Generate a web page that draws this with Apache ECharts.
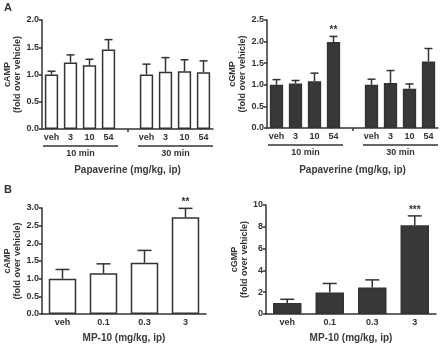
<!DOCTYPE html>
<html><head><meta charset="utf-8">
<script src="https://cdn.jsdelivr.net/npm/echarts@6/dist/echarts.min.js"></script>
<style>html,body{margin:0;padding:0;background:#fff}#c{width:440px;height:344px}</style>
</head><body><div id="c"></div>
<script>
// ---- data ----
const papCats = ['veh','3','10','54','','veh','3','10','54'];
const papGroups = ['10 min','30 min'];
const cAMP_A = [1.00,1.22,1.17,1.46,null,1.00,1.05,1.06,1.04];
const cAMP_A_err = [0.06,0.14,0.11,0.18,null,0.19,0.26,0.21,0.21];
const cAMP_A_sig = ['','','','','','','','',''];
const cGMP_A = [1.00,1.03,1.08,1.99,null,1.00,1.04,0.91,1.54];
const cGMP_A_err = [0.12,0.07,0.19,0.13,null,0.13,0.29,0.11,0.30];
const cGMP_A_sig = ['','','','**','','','','',''];
const mpCats = ['veh','0.1','0.3','3'];
const cAMP_B = [1.00,1.15,1.45,2.74];
const cAMP_B_err = [0.26,0.27,0.35,0.25];
const cAMP_B_sig = ['','','','**'];
const cGMP_B = [1.00,1.97,2.43,8.15];
const cGMP_B_err = [0.35,0.83,0.70,0.85];
const cGMP_B_sig = ['','','','***'];

const INK = '#333';
const FONT = 'Liberation Sans, Arial, sans-serif';
const chart = echarts.init(document.getElementById('c'), null, {renderer:'canvas'});

const panels = [
  {grid:{left:42,top:20,width:171,height:109}, cats:papCats, vals:cAMP_A, err:cAMP_A_err, sig:cAMP_A_sig,
   max:2, interval:0.5, dec:1, fill:'#fff', bw:'70%', cap:8, yname:'cAMP\n(fold over vehicle)', xname:'Papaverine (mg/kg, ip)', xgap:36, gapTick:true},
  {grid:{left:267,top:20,width:171,height:108}, cats:papCats, vals:cGMP_A, err:cGMP_A_err, sig:cGMP_A_sig,
   max:2.5, interval:0.5, dec:1, fill:'#383838', bw:'70%', cap:8, yname:'cGMP\n(fold over vehicle)', xname:'Papaverine (mg/kg, ip)', xgap:37, gapTick:true},
  {grid:{left:42,top:208,width:164,height:108.5}, cats:mpCats, vals:cAMP_B, err:cAMP_B_err, sig:cAMP_B_sig,
   max:3, interval:0.5, dec:1, fill:'#fff', bw:'67%', cap:14, yname:'cAMP\n(fold over vehicle)', xname:'MP-10 (mg/kg, ip)', xgap:19, gapTick:false},
  {grid:{left:266,top:205,width:170,height:111}, cats:mpCats, vals:cGMP_B, err:cGMP_B_err, sig:cGMP_B_sig,
   max:10, interval:2, dec:0, fill:'#383838', bw:'67%', cap:14, yname:'cGMP\n(fold over vehicle)', xname:'MP-10 (mg/kg, ip)', xgap:19, gapTick:false}
];

const grid=[], xAxis=[], yAxis=[], series=[];
panels.forEach((p,i)=>{
  grid.push(p.grid);
  xAxis.push({type:'category', gridIndex:i, data:p.cats,
    axisLine:{lineStyle:{color:INK,width:1.5}},
    axisTick:p.gapTick ? {show:true, alignWithLabel:true, length:3, lineStyle:{color:INK,width:1.5}, interval:(idx)=>p.cats[idx]===''} : {show:false},
    axisLabel:{color:INK, fontSize:9, fontWeight:'bold', fontFamily:FONT, margin:4, interval:0},
    name:p.xname, nameLocation:'middle', nameGap:p.xgap,
    nameTextStyle:{color:'#3a3a3a', fontSize:10, fontWeight:'bold', fontFamily:FONT}
  });
  yAxis.push({type:'value', gridIndex:i, min:0, max:p.max, interval:p.interval,
    splitLine:{show:false},
    axisLine:{show:true, lineStyle:{color:INK,width:1.5}},
    axisTick:{show:true, length:3, lineStyle:{color:INK,width:1.5}},
    axisLabel:{color:INK, fontSize:9, fontWeight:'bold', fontFamily:FONT, margin:3, formatter:(v)=>v.toFixed(p.dec)},
    name:p.yname, nameLocation:'middle', nameRotate:90, nameGap:16,
    nameTextStyle:{color:INK, fontSize:9, fontWeight:'bold', fontFamily:FONT, lineHeight:10}
  });
  series.push({type:'bar', xAxisIndex:i, yAxisIndex:i, data:p.vals, barWidth:p.bw,
    itemStyle:{color:p.fill, borderColor:INK, borderWidth:1.5}, silent:true, z:2});
  const edata = p.vals.map((v,k)=> v==null ? null : [k, v, v + p.err[k]]).filter(d=>d);
  series.push({type:'custom', xAxisIndex:i, yAxisIndex:i, data:edata, z:3, silent:true,
    renderItem:(params, api)=>{
      const k = api.value(0);
      const base = api.coord([k, api.value(1)]);
      const tip = api.coord([k, api.value(2)]);
      const hw = p.cap/2;
      const st = {stroke:INK, lineWidth:1.5};
      const ch = [
        {type:'line', shape:{x1:base[0],y1:base[1],x2:tip[0],y2:tip[1]}, style:st},
        {type:'line', shape:{x1:tip[0]-hw,y1:tip[1],x2:tip[0]+hw,y2:tip[1]}, style:st}
      ];
      const s = p.sig[k];
      if (s) ch.push({type:'text', style:{text:s, x:tip[0], y:tip[1]-1, align:'center', verticalAlign:'bottom',
        fill:INK, font:'bold 10px '+FONT}});
      return {type:'group', children:ch};
    }});
});

chart.setOption({animation:false, backgroundColor:'#fff', grid, xAxis, yAxis, series});

// group brackets under panel A axes, placed through the axis scales
const g = [
  {type:'text', left:4, top:2, style:{text:'A', font:'bold 11px '+FONT, fill:INK}},
  {type:'text', left:4, top:184, style:{text:'B', font:'bold 11px '+FONT, fill:INK}}
];
[0,1].forEach(i=>{
  const c0 = chart.convertToPixel({xAxisIndex:i}, 0);
  const c1 = chart.convertToPixel({xAxisIndex:i}, 1);
  const step = c1 - c0;
  const y0 = chart.convertToPixel({yAxisIndex:i}, 0);
  const ranges = [[0,3],[5,8]];
  ranges.forEach((r,j)=>{
    const xa = chart.convertToPixel({xAxisIndex:i}, r[0]) - step/2 + 1;
    const xb = chart.convertToPixel({xAxisIndex:i}, r[1]) + step/2;
    g.push({type:'line', shape:{x1:xa, y1:y0+17, x2:xb, y2:y0+17}, style:{stroke:INK, lineWidth:1.5}});
    g.push({type:'text', x:(xa+xb)/2, y:y0+25, style:{text:papGroups[j], align:'center', verticalAlign:'middle',
      font:'bold 9px '+FONT, fill:INK}});
  });
});
chart.setOption({graphic:g});
</script></body></html>
